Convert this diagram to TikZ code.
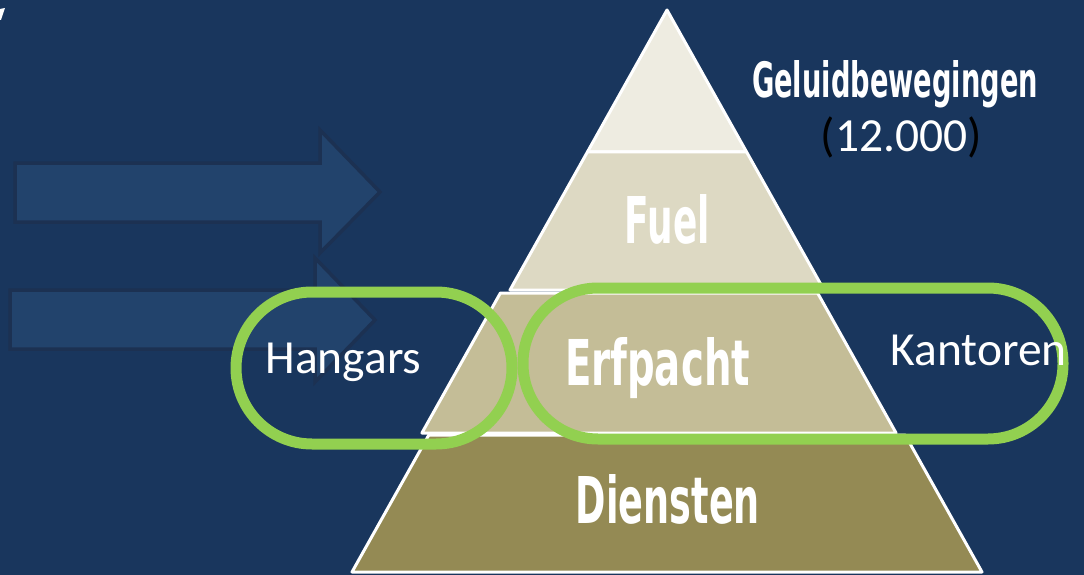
\documentclass[tikz,border=0pt]{standalone}
\usepackage{fontspec}
\usepackage{graphicx}
\setmainfont{Carlito}
\newfontfamily\agency{DejaVu Sans}
\definecolor{bgblue}{HTML}{19365D}
\definecolor{arrfill}{HTML}{22436C}
\definecolor{arrline}{HTML}{1C3152}
\definecolor{lvlA}{HTML}{EEECE1}
\definecolor{lvlB}{HTML}{DDD9C3}
\definecolor{lvlC}{HTML}{C4BD97}
\definecolor{lvlD}{HTML}{948A54}
\definecolor{ringgreen}{HTML}{92D050}
\tikzset{
  band/.style={draw=white,line width=3pt,line join=round},
  bigarrow/.style={fill=arrfill,draw=arrline,line width=3.5pt,line join=miter},
  ring/.style={draw=ringgreen,line width=11pt},
  title/.style={anchor=base,inner sep=0pt,text=white},
  plain/.style={anchor=base,inner sep=0pt,text=white,font=\fontsize{47.5}{56}\selectfont},
}
\newcommand{\agencytext}[3]{\resizebox{#1pt}{#2pt}{\agency\bfseries #3}}
\begin{document}
\begin{tikzpicture}[x=1pt,y=-1pt]
\useasboundingbox (0,0) rectangle (1084,575);
\fill[bgblue] (0,0) rectangle (1084,575);
% small mark at the top left corner
\fill[white] (0,9) -- (5,8) -- (1,20) -- (0,20) -- cycle;
% arrows
\draw[bigarrow] (15,163) -- (320,163) -- (320,130) -- (380,192) -- (320,253) -- (320,222) -- (15,222) -- cycle;
\draw[bigarrow] (10,290) -- (315,290) -- (315,258) -- (375,320) -- (315,382) -- (315,349) -- (10,349) -- cycle;
% pyramid bands
\draw[band,fill=lvlA] (667,10) -- (746.6,152) -- (587.4,152) -- cycle;
\draw[band,fill=lvlB] (587.4,152) -- (746.6,152) -- (824,290) -- (510,290) -- cycle;
\draw[band,fill=lvlC] (500.4,293) -- (817.6,293) -- (896.1,433) -- (421.9,433) -- cycle;
\draw[band,fill=lvlD] (428.8,435) -- (905.2,435) -- (982,572) -- (352,572) -- cycle;
% green rings
\draw[ring,rounded corners=76pt] (236,292) rectangle (512,444);
\draw[ring,rounded corners=75pt] (523,288) rectangle (1063,439);
% texts
\node[title] (geluid) at (895,98) {\agencytext{286}{37}{Geluidbewegingen}};
\node[plain] (aantal) at (901.5,152) {{\color{black}(}12.000{\color{black})}};
\node[title] (fuel) at (667.5,243) {\agencytext{85}{49}{Fuel}};
\node[title] (erfpacht) at (657.5,385) {\agencytext{185}{48}{Erfpacht}};
\node[title] (diensten) at (668,523) {\agencytext{184}{49}{Diensten}};
\node[plain] (hangars) at (343.5,373) {Hangars};
\node[plain] (kantoren) at (978.5,365) {Kantoren};
\end{tikzpicture}
\end{document}
